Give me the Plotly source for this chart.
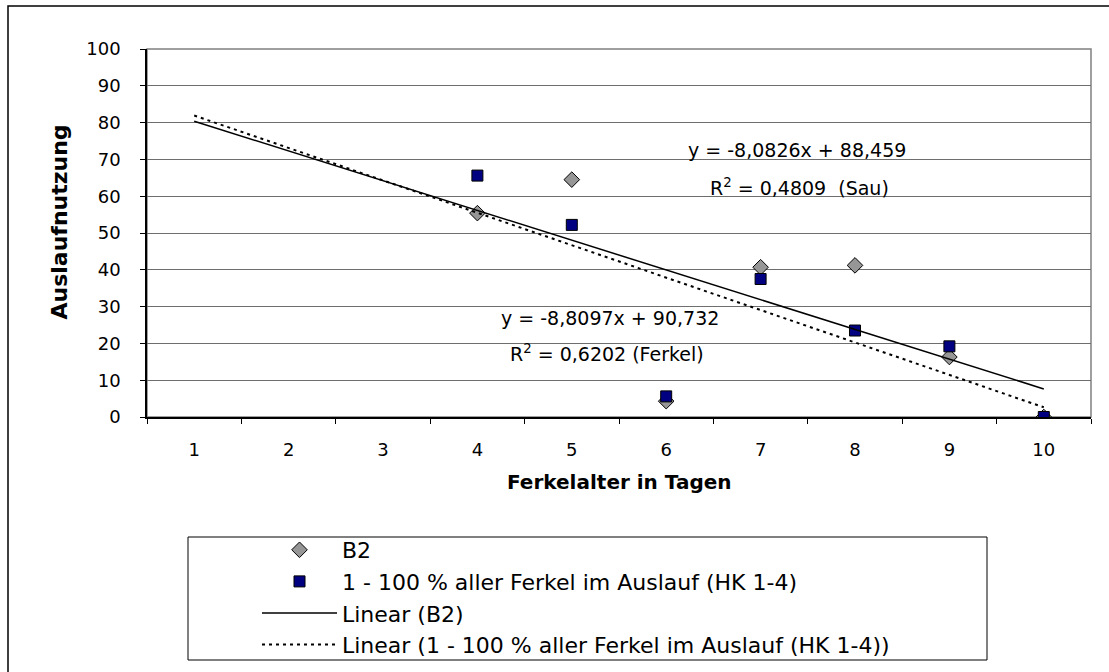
import plotly.graph_objects as go

# Ferkelalter (Tage) mit Messwerten
days = ["4", "5", "6", "7", "8", "9", "10"]
all_days = ["1", "2", "3", "4", "5", "6", "7", "8", "9", "10"]
b2_values = [55.4, 64.5, 4.3, 40.7, 41.2, 16.3, 0.0]
ferkel_values = [65.6, 52.2, 5.6, 37.5, 23.5, 19.2, 0.0]

# Lineare Trends (Koeffizienten laut Beschriftung)
sau_slope, sau_intercept, sau_r2 = -8.0826, 88.459, 0.4809
ferkel_slope, ferkel_intercept, ferkel_r2 = -8.8097, 90.732, 0.6202

trend_x = [1, 10]
name_b2 = "B2"
name_ferkel = "1 - 100 % aller Ferkel im Auslauf (HK 1-4)"

FONT = "DejaVu Sans, Liberation Sans, Arial, sans-serif"


def de(v, nd):
    return f"{v:.{nd}f}".replace(".", ",")


fig = go.Figure()

fig.add_trace(go.Scatter(
    x=days, y=b2_values, mode="markers", name=name_b2,
    marker=dict(symbol="diamond", size=12, color="#969696",
                line=dict(color="#000000", width=1)),
))
fig.add_trace(go.Scatter(
    x=days, y=ferkel_values, mode="markers", name=name_ferkel,
    marker=dict(symbol="square", size=11, color="#000080",
                line=dict(color="#000000", width=1)),
))
fig.add_trace(go.Scatter(
    x=[str(v) for v in trend_x],
    y=[sau_slope * v + sau_intercept for v in trend_x],
    mode="lines", name=f"Linear ({name_b2})",
    line=dict(color="#000000", width=1.5),
))
fig.add_trace(go.Scatter(
    x=[str(v) for v in trend_x],
    y=[ferkel_slope * v + ferkel_intercept for v in trend_x],
    mode="lines", name=f"Linear ({name_ferkel})",
    line=dict(color="#000000", width=2, dash="3px,4px"),
))

W, H = 1109, 672
ML, MR, MT, MB = 147, 18, 49, 255
PW, PH = W - ML - MR, H - MT - MB


def px_x(p):
    return (p - ML) / PW


def px_y(p):
    return (H - MB - p) / PH


def cat_x(p):
    # pixel column -> position on the category axis (0-based index)
    return (p - ML) / (PW / len(all_days)) - 0.5


def val_y(p):
    return (H - MB - p) / PH * 100


eq_font = dict(family=FONT, size=19, color="#000000")
annotations = [
    dict(x=cat_x(797), y=val_y(150), xref="x", yref="y", showarrow=False,
         font=eq_font,
         text=f"y = {de(sau_slope, 4)}x + {de(sau_intercept, 3)}"),
    dict(x=cat_x(799), y=val_y(187), xref="x", yref="y", showarrow=False,
         font=eq_font,
         text=f"R<sup>2</sup> = {de(sau_r2, 4)} \u00a0(Sau)"),
    dict(x=cat_x(610), y=val_y(318), xref="x", yref="y", showarrow=False,
         font=eq_font,
         text=f"y = {de(ferkel_slope, 4)}x + {de(ferkel_intercept, 3)}"),
    dict(x=cat_x(607), y=val_y(353), xref="x", yref="y", showarrow=False,
         font=eq_font,
         text=f"R<sup>2</sup> = {de(ferkel_r2, 4)} (Ferkel)"),
    dict(x=0.5, y=px_y(496), xref="paper", yref="paper", showarrow=False,
         text="<b>Ferkelalter in Tagen</b>",
         font=dict(family=FONT, size=20, color="#000000")),
    dict(x=px_x(44), y=px_y(222), xref="paper", yref="paper", showarrow=False,
         text="<b>Auslaufnutzung</b>", textangle=-90,
         font=dict(family=FONT, size=22, color="#000000")),
]

shapes = [
    # Rahmen des Diagrammbereichs
    dict(type="rect", xref="paper", yref="paper",
         x0=px_x(8), x1=px_x(1120), y0=px_y(690), y1=px_y(6),
         line=dict(color="#000000", width=1.5), layer="below"),
    # Zeichnungsfläche
    dict(type="rect", xref="paper", yref="paper", x0=0, x1=1, y0=0, y1=1,
         line=dict(color="#808080", width=1.5), layer="below"),
    # Legendenrahmen
    dict(type="rect", xref="paper", yref="paper",
         x0=px_x(188), x1=px_x(987), y0=px_y(660), y1=px_y(537),
         line=dict(color="#000000", width=1), layer="below"),
]

fig.update_layout(
    width=W, height=H,
    margin=dict(l=ML, r=MR, t=MT, b=MB, autoexpand=False),
    paper_bgcolor="#ffffff", plot_bgcolor="#ffffff",
    font=dict(family=FONT, size=18, color="#000000"),
    showlegend=True,
    legend=dict(
        x=px_x(257), y=px_y(529), xanchor="left", yanchor="top",
        bgcolor="rgba(0,0,0,0)", borderwidth=0,
        font=dict(family=FONT, size=22, color="#000000"),
        itemwidth=75, tracegroupgap=0,
    ),
    annotations=annotations,
    shapes=shapes,
)

fig.update_xaxes(
    type="category", categoryorder="array", categoryarray=all_days,
    range=[-0.5, 9.5], tickson="boundaries", ticks="outside", ticklen=5,
    tickcolor="#000000", showline=True, linecolor="#000000", linewidth=1.5,
    showgrid=False, zeroline=False, ticklabelstandoff=16, automargin=False,
    tickfont=dict(family=FONT, size=18, color="#000000"), fixedrange=True,
)
fig.update_yaxes(
    range=[0, 100], dtick=10, ticks="outside", ticklen=5, tickcolor="#000000",
    showline=True, linecolor="#000000", linewidth=1.5,
    showgrid=True, gridcolor="#6e6e6e", gridwidth=1, zeroline=False,
    ticklabelstandoff=16, automargin=False,
    tickfont=dict(family=FONT, size=18, color="#000000"), fixedrange=True,
)

fig.write_html("out.html")
